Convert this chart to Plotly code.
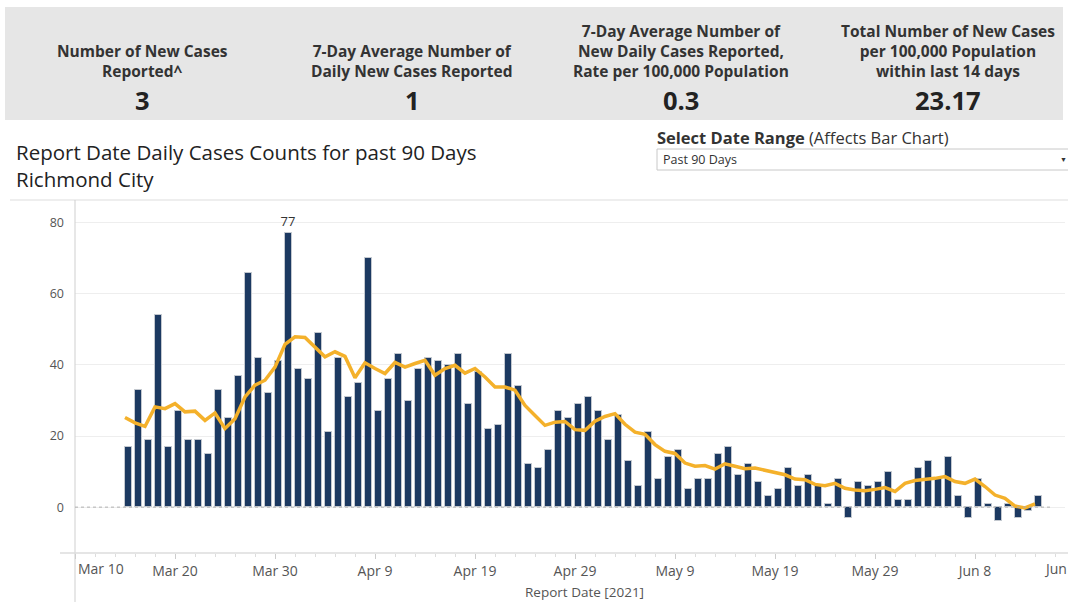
import pandas as pd
import plotly.graph_objects as go

# daily reported cases, Richmond City, starting 2021-03-15
START_DATE = "2021-03-15"
DAILY_CASES = [
    17, 33, 19, 54, 17, 27, 19, 19, 15, 33, 25, 37, 66, 42, 32, 41, 77, 39, 36, 49, 21, 42, 31, 35, 70,
    27, 36, 43, 30, 39, 42, 41, 40, 43, 29, 38, 22, 23, 43, 34, 12, 11, 16, 27, 25, 29, 31, 27, 19, 26, 13, 6,
    21, 8, 14, 16, 5, 8, 8, 15, 17, 9, 12, 7, 3, 5, 11, 6, 9, 6, 1, 8, -3, 7, 6, 7, 10, 2, 2, 11,
    13, 8, 14, 3, -3, 8, 1, -4, 1, -3, -1, 3,
]
AVG_7DAY = [
    25.2, 23.7, 22.7, 28.2, 27.7, 29.1, 26.8, 27.0, 24.4, 26.5, 22.1, 24.9, 31.0, 34.3, 35.7, 39.4,
    45.8, 47.9, 47.7, 45.1, 42.3, 43.7, 42.4, 36.4, 40.6,
    39.0, 37.6, 40.7, 39.4, 40.4, 41.3, 37.1, 39.0, 39.9, 37.7, 39.0, 36.6, 33.8, 33.8, 32.9, 28.6,
    25.8, 23.0, 23.9, 24.1, 21.8, 21.6, 24.2, 25.5, 26.3, 23.3, 21.1,
    20.5, 17.6, 15.7, 15.1, 12.4, 11.5, 11.7, 10.7, 12.2, 11.5, 10.8, 11.0, 10.3, 9.8, 9.1, 7.9,
    7.7, 6.4, 6.0, 6.7, 5.3, 4.8, 4.6, 5.0, 5.5, 4.4, 6.7, 7.5, 7.7, 8.1, 8.6, 7.2, 6.7, 7.9,
    5.8, 3.4, 2.5, 0.3, -0.2, 0.9,
]

TICK_DATES = ["2021-03-10", "2021-03-20", "2021-03-30", "2021-04-09", "2021-04-19", "2021-04-29",
              "2021-05-09", "2021-05-19", "2021-05-29", "2021-06-08", "2021-06-18"]
TICK_LABELS = ["Mar 10", "Mar 20", "Mar 30", "Apr 9", "Apr 19", "Apr 29",
               "May 9", "May 19", "May 29", "Jun 8", "Jun"]
Y_TICKS = [0, 20, 40, 60, 80]

TITLE_LINES = ["Report Date Daily Cases Counts for past 90 Days", "Richmond City"]
KPI_TITLES = [
    "Number of New Cases<br>Reported^",
    "7-Day Average Number of<br>Daily New Cases Reported",
    "7-Day Average Number of<br>New Daily Cases Reported,<br>Rate per 100,000 Population",
    "Total Number of New Cases<br>per 100,000 Population<br>within last 14 days",
]
KPI_VALUES = ["3", "1", "0.3", "23.17"]

# page geometry (pixels)
W, H = 1068, 602
L, R, T, B = 75, 3, 200, 49
PLOT_W = W - L - R
PLOT_H = H - T - B
DAY_MS = 86400000
X_RANGE = ["2021-03-10", "2021-06-17"]
FONT = "Open Sans, Noto Sans, sans-serif"


def px_x(px):
    return (px - L) / PLOT_W


def px_y(py):
    return (H - B - py) / PLOT_H


dates = pd.date_range(START_DATE, periods=len(DAILY_CASES), freq="D")
peak = max(DAILY_CASES)
bar_text = [str(v) if v == peak else "" for v in DAILY_CASES]

fig = go.Figure()
fig.add_trace(go.Bar(
    x=dates, y=DAILY_CASES, width=0.72 * DAY_MS, offset=0,
    marker=dict(color="#1c3961", line=dict(color="#c3c8cf", width=1)),
    text=bar_text, textposition="outside", constraintext="none", cliponaxis=False,
    textfont=dict(size=13, color="#333333", family=FONT),
    name="Daily cases", showlegend=False,
))
fig.add_trace(go.Scatter(
    x=dates, y=AVG_7DAY, mode="lines",
    line=dict(color="#f4b12b", width=3.5),
    name="7-day average", showlegend=False,
))

shapes = [
    # KPI band
    dict(type="rect", xref="paper", yref="paper", x0=px_x(5), x1=px_x(1063), y0=px_y(120), y1=px_y(7),
         fillcolor="#e6e6e6", line=dict(width=0), layer="below"),
    # dropdown box
    dict(type="rect", xref="paper", yref="paper", x0=px_x(657), x1=px_x(1080), y0=px_y(170), y1=px_y(149),
         fillcolor="white", line=dict(color="#c8c8c8", width=1), layer="below"),
    # separator above chart
    dict(type="line", xref="paper", yref="paper", x0=px_x(10), x1=px_x(1068), y0=px_y(200), y1=px_y(200),
         line=dict(color="#dddddd", width=1)),
    # left axis line
    dict(type="line", xref="paper", yref="paper", x0=0, x1=0, y0=px_y(602), y1=px_y(200),
         line=dict(color="#cfcfcf", width=1)),
    # bottom axis line
    dict(type="line", xref="paper", yref="paper", x0=px_x(60), x1=px_x(1068), y0=0, y1=0,
         line=dict(color="#dcdcdc", width=1.5)),
    # zero reference line
    dict(type="line", xref="paper", yref="y", x0=0, x1=px_x(1052), y0=0, y1=0,
         line=dict(color="#b0b0b0", width=1, dash="dot")),
]

annotations = []
kpi_x = [142, 412, 681, 948]
for title, value, cx in zip(KPI_TITLES, KPI_VALUES, kpi_x):
    annotations.append(dict(
        text="<b>" + title + "</b>", xref="paper", yref="paper", x=px_x(cx), y=px_y(84),
        xanchor="center", yanchor="bottom", showarrow=False, align="center",
        font=dict(size=15.5, color="#333333", family=FONT),
    ))
    annotations.append(dict(
        text="<b>" + value + "</b>", xref="paper", yref="paper", x=px_x(cx), y=px_y(100),
        xanchor="center", yanchor="middle", showarrow=False,
        font=dict(size=25.5, color="#222222", family=FONT),
    ))

for line, cy in zip(TITLE_LINES, [152, 179]):
    annotations.append(dict(
        text=line, xref="paper", yref="paper", x=px_x(14), y=px_y(cy), xanchor="left", yanchor="middle",
        showarrow=False, font=dict(size=20.5, color="#222222", family=FONT),
    ))

annotations += [
    dict(text="<b>Select Date Range</b> (Affects Bar Chart)",
         xref="paper", yref="paper", x=px_x(655), y=px_y(137), xanchor="left", yanchor="middle",
         showarrow=False, font=dict(size=16.5, color="#333333", family=FONT)),
    dict(text="Past 90 Days", xref="paper", yref="paper", x=px_x(661), y=px_y(159.5),
         xanchor="left", yanchor="middle", showarrow=False,
         font=dict(size=12.5, color="#333333", family=FONT)),
    dict(text="▼", xref="paper", yref="paper", x=px_x(1063), y=px_y(159.5),
         xanchor="center", yanchor="middle", showarrow=False,
         font=dict(size=7, color="#333333", family=FONT)),
    dict(text="Report Date [2021]", xref="paper", yref="paper", x=px_x(584), y=px_y(592),
         xanchor="center", yanchor="middle", showarrow=False,
         font=dict(size=13.5, color="#555555", family=FONT)),
    # first date label sits left aligned against the axis
    dict(text=TICK_LABELS[0], xref="x", yref="paper", x=TICK_DATES[0], y=px_y(568),
         xanchor="left", yanchor="middle", showarrow=False, xshift=1,
         font=dict(size=14, color="#555555", family=FONT)),
]
# last date label is only partly visible at the page edge
x0, x1 = pd.Timestamp(X_RANGE[0]), pd.Timestamp(X_RANGE[1])
last_frac = (pd.Timestamp(TICK_DATES[-1]) - x0) / (x1 - x0)
annotations.append(dict(
    text=TICK_LABELS[-1], xref="paper", yref="paper", x=last_frac, y=px_y(568),
    xanchor="right", yanchor="middle", showarrow=False, xshift=-6,
    font=dict(size=14, color="#555555", family=FONT),
))

fig.update_layout(
    width=W, height=H, autosize=False,
    margin=dict(l=L, r=R, t=T, b=B, pad=0),
    paper_bgcolor="white", plot_bgcolor="white",
    font=dict(family=FONT, color="#555555"),
    bargap=0,
    shapes=shapes,
    annotations=annotations,
    xaxis=dict(
        type="date", range=X_RANGE,
        tickvals=TICK_DATES[:-1], ticktext=[""] + TICK_LABELS[1:-1],
        ticks="outside", ticklen=5, tickcolor="#cccccc",
        tickfont=dict(size=14, color="#555555"),
        minor=dict(tick0=TICK_DATES[0], dtick=2 * DAY_MS, ticks="outside", ticklen=3, tickcolor="#dddddd"),
        showgrid=False, showline=False, zeroline=False,
    ),
    yaxis=dict(
        range=[-12.9, 86.4], tickvals=Y_TICKS,
        tickfont=dict(size=12.5, color="#555555"),
        showgrid=True, gridcolor="#eeeeee", gridwidth=1,
        showline=False, zeroline=False, ticks="", ticklabelstandoff=10,
    ),
    hovermode="x",
)

fig.write_html(
    "out.html",
    config={"displayModeBar": False},
    post_script="document.body.style.margin='0';document.body.style.overflow='hidden';",
)
